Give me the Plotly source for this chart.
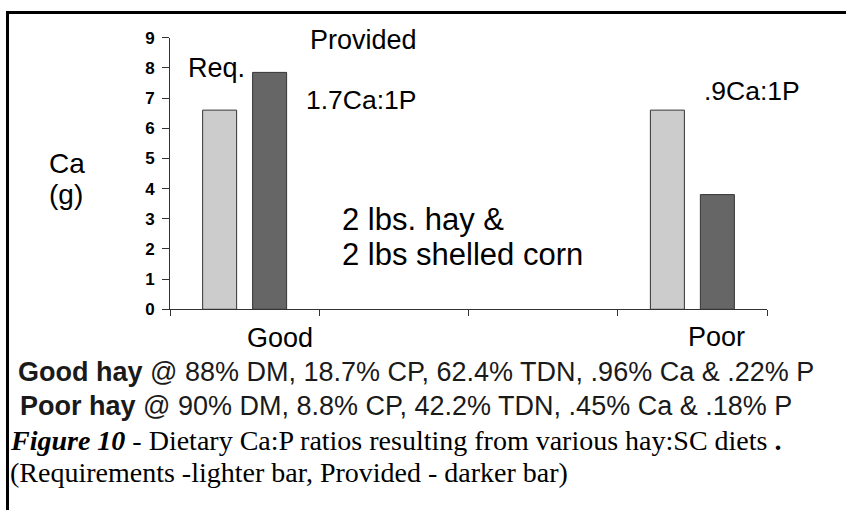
import plotly.graph_objects as go

# ---- data ----
categories = ["Good", "Poor"]
slots = ["Good", " ", "  ", "Poor"]
required = [6.6, 6.6]
provided = [7.85, 3.8]
y_ticks = [0, 1, 2, 3, 4, 5, 6, 7, 8, 9]
ratio_labels = ["1.7Ca:1P", ".9Ca:1P"]

W, H = 846, 510


def px(x):
    return x / W


def py(y):
    return 1 - y / H


fig = go.Figure()
fig.add_trace(go.Bar(x=categories, y=required, name="Req.",
                     marker=dict(color="#CCCCCC", line=dict(color="#333333", width=1))))
fig.add_trace(go.Bar(x=categories, y=provided, name="Provided",
                     marker=dict(color="#666666", line=dict(color="#333333", width=1))))

sans = "Liberation Sans, Arial"
serif = "Liberation Serif, Times New Roman"

fig.update_layout(
    width=W, height=H, autosize=False,
    margin=dict(l=0, r=0, t=0, b=0, pad=0, autoexpand=False),
    paper_bgcolor="white", plot_bgcolor="white",
    showlegend=False,
    barmode="group", bargap=0.33, bargroupgap=0.32,
    xaxis=dict(domain=[px(170), px(767)], type="category",
               categoryorder="array", categoryarray=slots,
               range=[-0.5, 3.5], tickson="boundaries", automargin=False,
               showticklabels=False, ticks="outside", ticklen=6,
               tickcolor="#333333", showline=True, linecolor="#333333",
               linewidth=1, showgrid=False, zeroline=False),
    yaxis=dict(domain=[py(309.3), py(37.7)], range=[0, 9], automargin=False,
               tickvals=y_ticks, ticktext=["<b>%d</b>" % v for v in y_ticks],
               ticks="outside", ticklen=7, ticklabelstandoff=4,
               tickcolor="#333333", showline=True, linecolor="#333333",
               linewidth=1, showgrid=False, zeroline=False,
               tickfont=dict(family=sans, size=17, color="black")),
    font=dict(family=sans, color="black"),
)


def note(text, x, y, size, xanchor="left", family=sans, color="black"):
    fig.add_annotation(text=text, x=px(x), y=py(y), xref="paper", yref="paper",
                       xanchor=xanchor, yanchor="middle", showarrow=False,
                       align="left", borderpad=0,
                       font=dict(family=family, size=size, color=color))


note("Ca", 48, 164, 28)
note("(g)", 48, 194, 28)
note("Req.", 187, 68, 27)
note("Provided", 309, 40, 27)
note(ratio_labels[0], 305, 100, 26.5)
note(ratio_labels[1], 703, 91, 26.5)
note("2 lbs. hay &amp;", 341, 219, 31)
note("2 lbs shelled corn", 341, 254, 31)
note(categories[0], 280, 338, 27, xanchor="center")
note(categories[1], 716, 337, 27, xanchor="center")

note("<b>Good hay</b> @ 88% DM, 18.7% CP, 62.4% TDN, .96% Ca &amp; .22% P", 17, 372, 27, color="#1a1a1a")
note("<b>Poor hay</b> @ 90% DM, 8.8% CP, 42.2% TDN, .45% Ca &amp; .18% P", 19, 406, 27, color="#1a1a1a")
note("<b><i>Figure 10</i></b> - Dietary Ca:P ratios resulting from various hay:SC diets <b>.</b>",
     9, 440, 28, family=serif)
note("(Requirements -lighter bar, Provided - darker bar)", 9, 472, 28, family=serif)

# frame lines (top and left)
fig.add_shape(type="line", xref="paper", yref="paper", x0=px(6), x1=1.0,
              y0=py(12.5), y1=py(12.5), line=dict(color="black", width=3))
fig.add_shape(type="line", xref="paper", yref="paper", x0=px(7.5), x1=px(7.5),
              y0=py(11), y1=0, line=dict(color="black", width=3))

fig.write_html("out.html", config={"displayModeBar": False, "responsive": False},
               post_script="document.body.style.margin='0';")
